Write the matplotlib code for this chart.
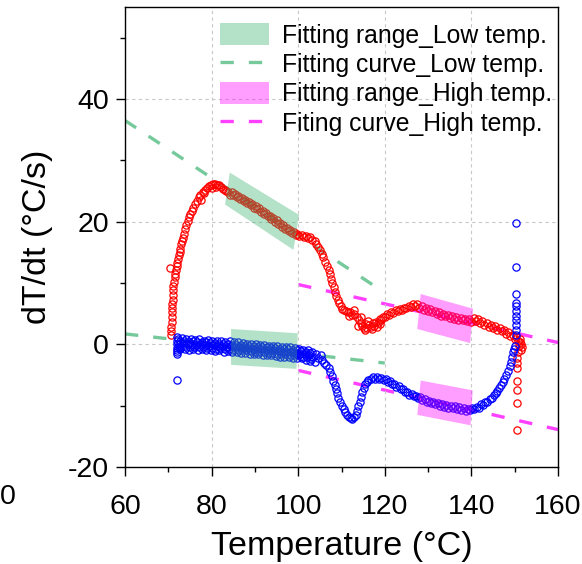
import matplotlib
matplotlib.use('Agg')
import matplotlib.pyplot as plt
from matplotlib.patches import Polygon, Patch
from matplotlib.lines import Line2D
from matplotlib.ticker import MultipleLocator

plt.rcParams['font.family'] = ['Liberation Sans', 'DejaVu Sans']
plt.rcParams['axes.unicode_minus'] = False

# heating curve (red)
red_T = [70.4, 70.6, 70.7, 70.7, 70.8, 70.8, 70.9, 70.9, 70.9, 71.0, 71.0, 71.1, 71.2, 71.3, 71.5, 71.6,
         71.8, 71.9, 72.0, 72.2, 72.4, 72.6, 72.8, 73.0, 73.2, 73.4, 73.6, 73.9, 74.2, 74.5, 74.8, 75.1,
         75.4, 75.8, 76.2, 76.6, 77.0, 77.4, 77.6, 77.9, 78.2, 78.4, 78.9, 79.4, 79.9, 80.0, 80.4, 80.9,
         81.0, 81.3, 81.8, 82.2, 82.6, 83.0, 83.4,
         83.8, 84.2, 84.6, 85.0, 85.4, 85.8, 86.2, 86.6, 87.0, 87.4, 87.8, 88.2, 88.6, 89.0, 89.4, 89.8,
         90.2, 90.6, 91.0, 91.4, 91.8, 92.2, 92.6, 93.0, 93.4, 93.8, 94.2, 94.6, 95.0, 95.4, 95.8, 96.2,
         96.6, 97.0, 97.4, 97.8, 98.2, 98.6, 99.0, 99.4, 99.8,
         100.3, 100.8, 101.3, 101.8, 102.3, 102.8, 103.3, 103.8, 104.2, 104.6, 105.0, 105.4, 105.8, 106.2,
         106.6, 107.0, 107.3, 107.6, 107.9, 108.2, 108.5, 108.8, 109.1, 109.4, 109.8, 110.2, 110.6, 111.0,
         111.5, 111.8, 112.0, 112.5, 112.8, 113.0, 113.5, 113.8, 114.0, 114.4, 114.6, 114.8, 115.2, 115.4,
         115.6, 116.0, 116.2, 116.4, 116.8, 117.0, 117.2, 117.6, 118.0, 118.2, 118.4, 118.8, 119.0, 119.2,
         119.6, 120.0, 120.5, 121.0, 121.5, 122.0, 122.5, 123.0, 123.5, 124.0, 124.5, 125.0, 125.5, 126.0,
         126.5, 127.0, 127.5, 128.0, 128.5, 129.0, 129.5, 130.0, 130.5, 131.0, 131.5, 132.0, 132.5, 133.0,
         133.5, 134.0, 134.5, 135.0, 135.5, 136.0, 136.5, 137.0, 137.5, 138.0, 138.5, 139.0, 139.5, 140.0,
         140.5, 141.0, 141.5, 142.0, 142.5, 143.0, 143.5, 144.0, 144.5, 145.0, 145.5, 146.0, 146.5, 147.0,
         147.5, 148.0, 148.5, 149.0, 149.5, 150.0, 150.4, 150.8, 151.2, 151.5, 151.7, 151.4, 151.0, 150.7,
         151.3, 150.6, 150.6, 150.6, 150.6, 150.6, 150.6, 150.6]
red_v = [12.5, 1.6, 2.2, 2.9, 3.6, 4.4, 5.2, 6.0, 6.6, 7.3, 8.0, 8.8, 9.5, 10.2, 10.9, 11.5,
         12.1, 12.7, 13.2, 13.9, 14.5, 15.1, 15.6, 16.3, 16.9, 17.4, 18.0, 18.8, 19.4, 20.1, 20.7, 21.3,
         21.7, 22.3, 22.9, 23.4, 24.0, 24.4, 23.6, 24.8, 24.6, 25.1, 25.5, 25.8, 25.9, 25.5, 26.1, 26.2,
         25.6, 26.0, 25.9, 25.6, 25.3, 25.2, 25.0,
         24.9, 24.4, 24.8, 24.3, 24.5, 24.0, 24.2, 23.7, 23.9, 23.4, 23.6, 23.0, 23.2, 22.7, 22.9, 22.3,
         22.5, 22.0, 22.2, 21.6, 21.8, 21.3, 21.4, 20.9, 21.0, 20.4, 20.6, 20.0, 20.2, 19.6, 19.8, 19.2,
         19.4, 18.8, 19.0, 18.4, 18.6, 18.1, 18.3, 17.9, 18.0,
         17.6, 17.8, 17.5, 17.7, 17.3, 17.5, 17.0, 16.9, 16.4, 15.9, 15.4, 14.8, 14.2, 13.5,
         12.8, 12.1, 11.4, 10.7, 10.0, 9.3, 8.6, 7.9, 7.3, 6.8, 6.2, 5.8, 5.6, 5.4,
         5.2, 4.6, 5.3, 4.8, 5.6, 4.9, 4.4, 3.0, 4.0, 3.5, 4.4, 3.0, 2.7, 2.4,
         3.3, 2.6, 3.8, 3.1, 2.8, 2.5, 3.4, 3.0, 3.7, 2.9, 3.5, 4.1, 3.3, 4.0,
         4.5, 4.4, 4.9, 4.8, 5.3, 5.1, 5.6, 5.4, 5.8, 5.6, 6.0, 5.9, 6.3, 6.1,
         6.5, 6.3, 6.6, 6.0, 6.2, 5.6, 5.9, 5.4, 5.7, 5.2, 5.4, 4.9, 5.2, 4.7,
         5.0, 4.6, 4.8, 4.3, 4.6, 4.2, 4.5, 4.0, 4.3, 3.9, 4.2, 3.8, 4.1, 3.7,
         4.3, 3.8, 4.1, 3.5, 3.8, 3.2, 3.5, 2.9, 3.2, 2.6, 3.0, 2.4, 2.7, 2.1,
         2.4, 1.7, 2.0, 1.3, 1.6, 0.9, 1.2, 0.5, 0.8, 0.1, -0.4, -0.9, -0.2, -1.3,
         0.3, -2.2, -3.0, -3.9, -6.0, -7.4, -9.6, -13.9]

# cooling curve (blue); the flat part is a thick band, read as several rows
blue_T = [71.9, 71.9, 71.9, 71.9, 72.0, 72.0, 72.1,
          72.5, 73.5, 74.5, 75.5, 76.5, 77.5, 78.5, 79.5, 80.5, 81.5, 82.5, 83.5, 84.5, 85.5, 86.5, 87.5,
          88.5, 89.5, 90.5, 91.5, 92.5, 93.5, 94.5, 95.5, 96.5, 97.5, 98.5, 99.5, 100.5, 101.5, 102.5,
          103.5, 104.5,
          72.2, 73.2, 74.2, 75.2, 76.2, 77.2, 78.2, 79.2, 80.2, 81.2, 82.2, 83.2, 84.2, 85.2, 86.2, 87.2,
          88.2, 89.2, 90.2, 91.2, 92.2, 93.2, 94.2, 95.2, 96.2, 97.2, 98.2, 99.2, 100.2, 101.2, 102.2,
          103.2, 104.2, 105.2,
          72.0, 72.8, 73.8, 74.8, 75.8, 76.8, 77.8, 78.8, 79.8, 80.8, 81.8, 82.8, 83.8, 84.8, 85.8, 86.8,
          87.8, 88.8, 89.8, 90.8, 91.8, 92.8, 93.8, 94.8, 95.8, 96.8, 97.8, 98.8, 99.8, 100.8, 101.8,
          102.8, 103.8,
          72.7, 73.7, 74.7, 75.7, 76.7, 77.7, 78.7, 79.7, 80.7, 81.7, 82.7, 83.7, 84.7, 85.7, 86.7, 87.7,
          88.7, 89.7, 90.7, 91.7, 92.7, 93.7, 94.7, 95.7, 96.7, 97.7, 98.7, 99.7, 100.7, 101.7, 102.7,
          72.4, 73.0, 74.0, 75.0, 76.0, 77.0, 78.0, 79.0, 80.0, 81.0, 82.0, 83.0, 84.0, 85.0, 86.0, 87.0,
          88.0, 89.0, 90.0, 91.0, 92.0, 93.0, 94.0, 95.0, 96.0, 97.0, 98.0, 99.0, 100.0, 101.0, 102.0,
          103.0,
          105.5, 106.0, 106.5, 107.0, 107.4, 107.8, 108.1, 108.4, 108.7, 109.0, 109.3, 109.7, 110.1, 110.5,
          110.9, 111.3, 111.7, 112.1, 112.5, 112.9, 113.3, 113.6, 113.9, 114.2, 114.5, 114.8, 115.1, 115.4,
          115.8, 116.2, 116.7, 117.2, 117.7, 118.2, 118.7, 119.2, 119.7, 120.2, 120.7, 121.2, 121.7, 122.2,
          122.7, 123.2, 123.7, 124.2, 124.7, 125.2, 125.7, 126.2, 126.7, 127.2, 127.7, 128.2, 128.7, 129.2,
          129.7, 130.2, 130.7, 131.2, 131.7, 132.2, 132.7, 133.2, 133.7, 134.2, 134.7, 135.2, 135.7, 136.2,
          136.7, 137.2, 137.7, 138.2, 138.7, 139.2, 139.7, 140.2, 140.7, 141.2, 141.7, 142.2, 142.7, 143.2,
          143.7, 144.2, 144.7, 145.2, 145.6, 146.0, 146.4, 146.8, 147.2, 147.6, 148.0, 148.4, 148.8, 149.1,
          149.4, 149.6, 149.8, 150.0,
          150.2, 150.2, 150.2, 150.2, 150.2, 150.2, 150.2, 150.2, 150.2, 150.2, 150.2]
blue_v = [1.2, 0.6, 0.0, -0.6, -1.2, -1.5, -5.8,
          0.1, 0.2, 0.0, 0.1, -0.1, 0.0, -0.1, -0.2, -0.1, -0.3, -0.2, -0.4, -0.3, -0.5, -0.4, -0.6,
          -0.6, -0.7, -0.8, -0.8, -0.9, -1.0, -1.0, -1.1, -1.2, -1.2, -1.3, -1.4, -1.5, -1.6, -1.8,
          -2.0, -2.3,
          0.9, 1.0, 0.8, 0.9, 0.7, 0.8, 0.6, 0.7, 0.6, 0.5, 0.6, 0.4, 0.5, 0.3, 0.3, 0.2,
          0.1, 0.1, 0.0, -0.1, -0.1, -0.2, -0.3, -0.3, -0.4, -0.5, -0.5, -0.6, -0.7, -0.9, -1.0,
          -1.2, -1.5, -1.8,
          -1.0, -0.8, -0.7, -0.9, -0.8, -0.9, -0.8, -1.0, -0.9, -1.1, -1.0, -1.2, -1.1, -1.3, -1.2, -1.4,
          -1.4, -1.5, -1.6, -1.6, -1.7, -1.8, -1.8, -1.9, -2.0, -2.0, -2.1, -2.2, -2.2, -2.3, -2.5,
          -2.7, -2.9,
          0.5, 0.6, 0.4, 0.5, 0.3, 0.4, 0.3, 0.2, 0.2, 0.1, 0.1, 0.0, -0.1, -0.1, -0.1, -0.2,
          -0.3, -0.3, -0.4, -0.5, -0.5, -0.6, -0.6, -0.7, -0.8, -0.8, -0.9, -1.0, -1.1, -1.2, -1.4,
          -0.5, -0.4, -0.4, -0.5, -0.4, -0.5, -0.5, -0.6, -0.6, -0.7, -0.6, -0.8, -0.8, -0.9, -0.9, -1.0,
          -1.0, -1.1, -1.2, -1.2, -1.3, -1.4, -1.4, -1.5, -1.6, -1.6, -1.7, -1.8, -1.8, -2.0, -2.1,
          -2.4,
          -2.6, -3.0, -3.4, -3.9, -4.5, -5.2, -5.9, -6.6, -7.3, -8.0, -8.7, -9.4, -10.0, -10.6,
          -11.1, -11.5, -11.8, -12.0, -12.1, -11.9, -11.5, -10.8, -10.1, -9.4, -8.6, -7.8, -7.1, -6.5,
          -6.1, -5.8, -5.6, -5.4, -5.6, -5.3, -5.6, -5.5, -5.8, -5.7, -6.1, -6.0, -6.5, -6.4,
          -6.9, -6.8, -7.3, -7.3, -7.8, -7.7, -8.2, -8.1, -8.5, -8.4, -8.8, -8.6, -9.1, -8.9,
          -9.4, -9.2, -9.6, -9.4, -9.8, -9.6, -10.0, -9.8, -10.2, -9.9, -10.3, -10.0, -10.4, -10.1,
          -10.5, -10.2, -10.7, -10.4, -10.8, -10.5, -10.7, -10.4, -10.6, -10.2, -10.3, -9.8, -9.9, -9.4,
          -9.4, -8.9, -8.8, -8.3, -8.0, -7.6, -7.1, -6.7, -6.2, -5.6, -5.0, -4.3, -3.5, -2.8,
          -2.0, -1.3, -0.7, -0.2,
          19.8, 12.6, 8.2, 6.8, 6.2, 5.4, 4.6, 3.9, 3.1, 2.4, 1.6]

# fitting ranges (corner points of the shaded boxes)
low_up_T = [84.2, 100.2, 98.9, 83.1]
low_up_v = [28.0, 21.1, 15.4, 22.8]
low_dn_T = [84.5, 99.9, 99.6, 84.5]
low_dn_v = [2.5, 1.8, -4.0, -3.35]
high_up_T = [128.3, 140.4, 139.7, 127.5]
high_up_v = [8.2, 5.8, 0.2, 2.5]
high_dn_T = [128.3, 140.3, 139.8, 127.5]
high_dn_v = [-5.9, -7.5, -13.2, -11.5]

# fitting curves (end points)
low_fit_T = [60, 120]
low_fit_up = [36.5, 8.4]
low_fit_dn = [1.7, -3.05]
high_fit_T = [100, 160]
high_fit_up = [9.75, 0.3]
high_fit_dn = [-4.25, -13.9]

green = '#3CB371'
pink = '#FF00FF'

fig = plt.figure(figsize=(5.82, 5.64), dpi=100)
ax = fig.add_axes([125/582, 97/564, 433/582, 460/564])

dash = (0, (4, 4.5))
ax.plot(low_fit_T, low_fit_up, color=green, lw=2.4, ls=dash, alpha=0.7, zorder=1)
ax.plot(low_fit_T, low_fit_dn, color=green, lw=2.4, ls=dash, alpha=0.7, zorder=1)
ax.plot(high_fit_T, high_fit_up, color=pink, lw=2.4, ls=dash, alpha=0.75, zorder=1)
ax.plot(high_fit_T, high_fit_dn, color=pink, lw=2.4, ls=dash, alpha=0.75, zorder=1)

ax.plot(red_T, red_v, 'o', mfc='none', mec='#FF0000', ms=5.2, mew=0.9, zorder=2)
ax.plot(blue_T, blue_v, 'o', mfc='none', mec='#0000FF', ms=5.2, mew=0.9, zorder=2)

for xs, ys, c in [(low_up_T, low_up_v, green), (low_dn_T, low_dn_v, green),
                  (high_up_T, high_up_v, pink), (high_dn_T, high_dn_v, pink)]:
    ax.add_patch(Polygon(list(zip(xs, ys)), closed=True, facecolor=c, edgecolor='none',
                         alpha=0.38, zorder=3))

ax.set_xlim(60, 160)
ax.set_ylim(-20, 55)
ax.xaxis.set_major_locator(MultipleLocator(20))
ax.xaxis.set_minor_locator(MultipleLocator(10))
ax.yaxis.set_major_locator(MultipleLocator(20))
ax.yaxis.set_minor_locator(MultipleLocator(10))
ax.tick_params(which='major', direction='out', length=6.5, width=1.0, labelsize=20.5, pad=5)
ax.tick_params(which='minor', direction='out', length=3.5, width=1.0)
ax.tick_params(axis='x', which='major', pad=13)
for s in ax.spines.values():
    s.set_linewidth(1.0)
ax.grid(True, which='major', ls=(0, (3, 3)), color='#c8c8c8', lw=0.8, zorder=0)

ax.set_xlabel('Temperature (°C)', fontsize=24.5)
ax.set_ylabel('dT/dt (°C/s)', fontsize=24.5, va='center')
ax.xaxis.set_label_coords(0.5, -0.14)
ax.yaxis.set_label_coords(-0.202, 0.5)

handles = [Patch(facecolor=green, alpha=0.38, edgecolor='none'),
           Line2D([], [], color=green, lw=2.4, ls=dash, alpha=0.7),
           Patch(facecolor=pink, alpha=0.38, edgecolor='none'),
           Line2D([], [], color=pink, lw=2.4, ls=dash, alpha=0.75)]
labels = ['Fitting range_Low temp.', 'Fitting curve_Low temp.',
          'Fitting range_High temp.', 'Fiting curve_High temp.']
fig.legend(handles, labels, loc='upper left', bbox_to_anchor=(220/582, 1 - 23/564),
           frameon=False, fontsize=17.8, borderpad=0, borderaxespad=0, handlelength=2.0,
           handleheight=1.0, handletextpad=0.5, labelspacing=0.2)

# clipped tick label from the neighbouring panel
fig.text(7.5/582, 1 - 497/564, '0', fontsize=20.5, ha='center', va='center')

plt.savefig('out.png', dpi=100)
